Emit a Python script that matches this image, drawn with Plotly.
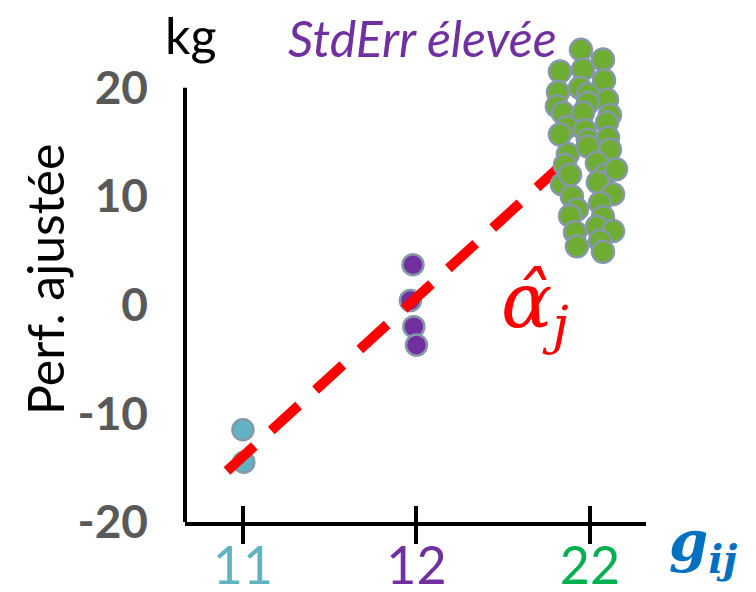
import plotly.graph_objects as go

# ---------------- data ----------------
categories = ["11", "12", "22"]
cat_pos = [0, 1, 2]
cat_colors = ["#62B3C1", "#7030A0", "#00B050"]
y_ticks = [-20, -10, 0, 10, 20]
y_ticklabels = ["-20", "-10", "0", "10", "20"]

# group 11
g11_x = [0.0, 0.005]
g11_y = [-11.5, -14.5]
# group 12
g12_x = [0.98, 0.965, 0.985, 1.0]
g12_y = [3.7, 0.4, -2.0, -3.7]
# group 22 (jittered around category 22)
g22_dx = [-0.052, 0.075, -0.173, -0.040, 0.081, -0.184, -0.058, -0.012, 0.098, -0.190,
          -0.012, -0.156, -0.040, 0.115, -0.133, -0.029, 0.098, -0.173, -0.012, 0.104,
          -0.127, -0.012, 0.115, 0.040, -0.144, 0.086, -0.161, 0.150, -0.115, 0.046,
          0.133, -0.104, 0.058, -0.075, -0.115, 0.075, 0.040, 0.133, -0.086, -0.075,
          0.058, 0.075]
g22_y = [23.5, 22.6, 21.5, 21.7, 20.7, 19.6, 20.0, 19.4, 18.9, 18.3,
         18.6, 17.7, 17.7, 17.5, 16.4, 16.1, 16.8, 15.7, 15.2, 15.4,
         13.9, 14.6, 14.3, 13.1, 12.9, 12.0, 11.1, 12.5, 12.0, 11.3,
         10.2, 10.0, 9.4, 8.8, 8.2, 8.1, 7.2, 6.8, 6.7, 5.4,
         5.9, 4.9]
g22_x = [2 + d for d in g22_dx]

# fitted slope line (alpha_j)
fit_x = [-0.092, 1.827]
fit_y = [-15.3, 12.75]

OUTLINE = "#8498A7"
marker_line = dict(color=OUTLINE, width=2.5)

fig = go.Figure()
fig.add_trace(go.Scatter(x=g11_x, y=g11_y, mode="markers", cliponaxis=False,
                         marker=dict(size=21, color="#62B3C1", line=marker_line),
                         showlegend=False, hoverinfo="skip"))
fig.add_trace(go.Scatter(x=g12_x, y=g12_y, mode="markers", cliponaxis=False,
                         marker=dict(size=21, color="#7030A0", line=marker_line),
                         showlegend=False, hoverinfo="skip"))
fig.add_trace(go.Scatter(x=fit_x, y=fit_y, mode="lines", cliponaxis=False,
                         line=dict(color="#FF0000", width=10, dash="37px,23px"),
                         showlegend=False, hoverinfo="skip"))
fig.add_trace(go.Scatter(x=g22_x, y=g22_y, mode="markers", cliponaxis=False,
                         marker=dict(size=22, color="#6FAC32", line=marker_line),
                         showlegend=False, hoverinfo="skip"))
# invisible trace to carry the inside-tick axis
fig.add_trace(go.Scatter(x=cat_pos, y=[0, 0, 0], xaxis="x2", mode="markers",
                         marker=dict(opacity=0), showlegend=False, hoverinfo="skip"))

ticktext = [f'<span style="color:{c}">{t}</span>' for t, c in zip(categories, cat_colors)]

fig.update_layout(
    width=756, height=592,
    margin=dict(l=185, r=110, t=39, b=70),
    paper_bgcolor="white", plot_bgcolor="white",
    font=dict(family="Lato, Arial, sans-serif"),
    xaxis=dict(range=[-0.334, 2.323], showline=True, linecolor="black", linewidth=4,
               ticks="outside", ticklen=18, tickwidth=4, tickcolor="black",
               tickvals=cat_pos, ticktext=ticktext, automargin=False,
               tickfont=dict(family="Lato", size=52), ticklabelstandoff=-22,
               showgrid=False, zeroline=False, fixedrange=True),
    xaxis2=dict(overlaying="x", matches="x", anchor="y", side="bottom",
                ticks="inside", ticklen=16, tickwidth=4, tickcolor="black",
                tickvals=cat_pos, showticklabels=False, showline=False,
                showgrid=False, zeroline=False, automargin=False),
    yaxis=dict(range=[-20, 24.5], showline=False,
               ticks="", tickvals=y_ticks, ticktext=y_ticklabels, automargin=False,
               tickfont=dict(family="Lato", size=46, color="#595959", weight="bold"),
               ticklabelstandoff=36,
               showgrid=False, zeroline=False, fixedrange=True),
)

# left axis line: only spans the labelled tick range
fig.add_shape(type="line", xref="paper", yref="y", x0=0, x1=0,
              y0=min(y_ticks), y1=max(y_ticks), line=dict(color="black", width=4))

ann = dict(xref="paper", yref="paper", showarrow=False, xanchor="center", yanchor="middle")
fig.add_annotation(**ann, x=0.011, y=1.008, text="kg",
                   font=dict(family="Lato", size=50, color="black"))
fig.add_annotation(**ann, x=0.516, y=1.002, text="<i>StdErr élevée</i>",
                   font=dict(family="Lato", size=50, color="#7030A0"))
fig.add_annotation(**ann, x=-0.304, y=0.503, text="Perf. ajustée", textangle=-90,
                   font=dict(family="Lato", size=50, color="black"))
fig.add_annotation(**ann, x=1.124, y=-0.048, text="<b><i>g<sub>ij</sub></i></b>",
                   font=dict(family="DejaVu Serif", size=56, color="#0070C0"))
fig.add_annotation(**ann, x=0.759, y=0.447, text="<i>α\u0302<sub>j</sub></i>",
                   font=dict(family="DejaVu Serif", size=76, color="#FF0000"))

fig.write_html("out.html")
